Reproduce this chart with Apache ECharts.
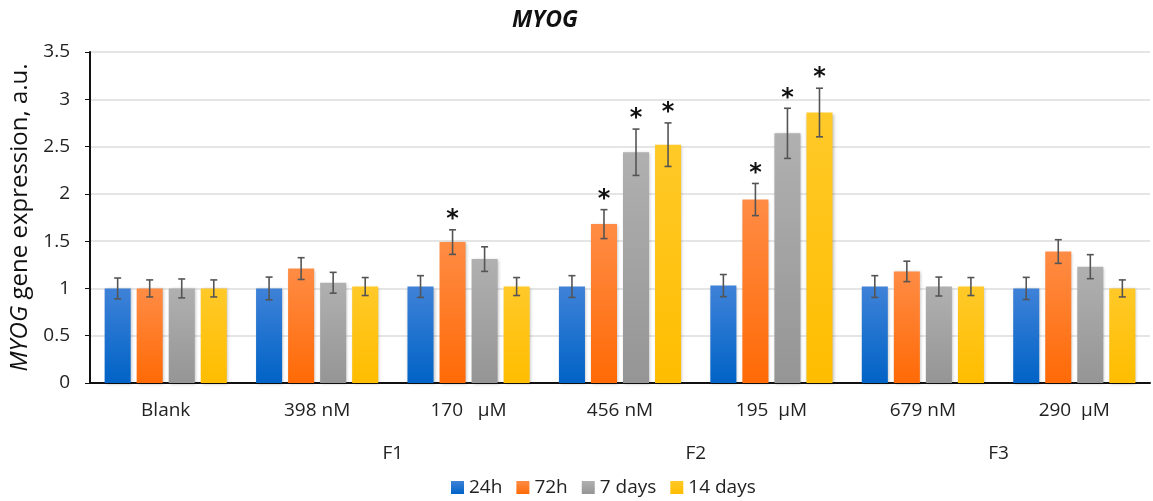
<!DOCTYPE html>
<html><head><meta charset="utf-8">
<script src="https://cdn.jsdelivr.net/npm/echarts@6/dist/echarts.min.js"></script>
<style>html,body{margin:0;padding:0;background:#fff}#c{width:1153px;height:501px}</style>
</head><body><div id="c"></div>
<script>
// ---- data ----
const categories = ['Blank', '398 nM', '170   µM', '456 nM', '195  µM', '679 nM', '290  µM'];
const seriesNames = ['24h', '72h', '7 days', '14 days'];
const v24 = [1.00, 1.00, 1.02, 1.02, 1.03, 1.02, 1.00];
const e24 = [0.11, 0.12, 0.115, 0.115, 0.117, 0.115, 0.117];
const v72 = [1.00, 1.21, 1.49, 1.68, 1.94, 1.18, 1.39];
const e72 = [0.09, 0.115, 0.13, 0.153, 0.17, 0.108, 0.125];
const v7d = [1.00, 1.06, 1.31, 2.44, 2.64, 1.02, 1.23];
const e7d = [0.10, 0.11, 0.13, 0.245, 0.265, 0.10, 0.127];
const v14 = [1.00, 1.02, 1.02, 2.52, 2.86, 1.02, 1.00];
const e14 = [0.09, 0.095, 0.095, 0.23, 0.257, 0.095, 0.09];
const s24 = [0, 0, 0, 0, 0, 0, 0];
const s72 = [0, 0, 1, 1, 1, 0, 0];
const s7d = [0, 0, 0, 1, 1, 0, 0];
const s14 = [0, 0, 0, 1, 1, 0, 0];
const groupLabels = ['F1', 'F2', 'F3'];
const groupSpans = [[1, 2], [3, 4], [5, 6]];
const yMin = 0, yMax = 3.5, yStep = 0.5;

// ---- styling ----
const FONT = 'Open Sans';
const BAR_W = 0.172, BAR_GAP = 0.23;
const colors = [
  ['#3f82d8', '#0063c6'],
  ['#ff8c45', '#ff6a06'],
  ['#b0b0b0', '#959595'],
  ['#ffc928', '#ffbd00']
];
const values = [v24, v72, v7d, v14];
const errs = [e24, e72, e7d, e14];
const sigs = [s24, s72, s7d, s14];

const grad = c => new echarts.graphic.LinearGradient(0, 0, 0, 1, [
  {offset: 0, color: c[0]}, {offset: 1, color: c[1]}]);

const barSeries = seriesNames.map((n, si) => ({
  type: 'bar', name: n, data: values[si],
  barWidth: (BAR_W * 100) + '%', barGap: (BAR_GAP * 100) + '%',
  itemStyle: {color: grad(colors[si]), shadowBlur: 3, shadowColor: 'rgba(0,0,0,0.25)', shadowOffsetX: 1, shadowOffsetY: 1},
  emphasis: {disabled: true}
}));

const errSeries = seriesNames.map((n, si) => ({
  type: 'custom', name: 'err' + si, silent: true, z: 10,
  data: values[si].map((v, ci) => [ci, v, errs[si][ci], sigs[si][ci]]),
  renderItem: (params, api) => {
    const ci = api.value(0), v = api.value(1), e = api.value(2), s = api.value(3);
    const band = api.size([1, 0])[0];
    const bw = band * BAR_W, step = bw * (1 + BAR_GAP);
    const x = api.coord([ci, v])[0] + (si - 1.5) * step;
    const top = api.coord([ci, v + e])[1], bot = api.coord([ci, v - e])[1];
    const st = {stroke: '#555', lineWidth: 1.6};
    const cap = 3.5;
    const ch = [
      {type: 'line', shape: {x1: x, y1: top, x2: x, y2: bot}, style: st},
      {type: 'line', shape: {x1: x - cap, y1: top, x2: x + cap, y2: top}, style: st},
      {type: 'line', shape: {x1: x - cap, y1: bot, x2: x + cap, y2: bot}, style: st}
    ];
    if (s) ch.push({type: 'text', style: {text: '*', x: x, y: top + 2, textAlign: 'center', textVerticalAlign: 'bottom',
      fontSize: 24, fontWeight: 'bold', fontFamily: 'DejaVu Sans', fill: '#111'}});
    return {type: 'group', children: ch};
  }
}));

const groupPos = {};
groupSpans.forEach((sp, i) => { groupPos[(sp[0] + sp[1] + 1) / 2] = groupLabels[i]; });

const chart = echarts.init(document.getElementById('c'), null, {renderer: 'canvas'});
chart.setOption({
  animation: false,
  title: {text: 'MYOG', left: 507, top: 4,
    textStyle: {fontFamily: FONT, fontSize: 23, fontWeight: 'bold', fontStyle: 'italic', color: '#111'}},
  grid: {left: 90, right: 3, top: 52, bottom: 118},
  legend: {data: seriesNames, bottom: -1, left: 446, icon: 'rect', itemWidth: 13, itemHeight: 13, itemGap: 14,
    itemStyle: {borderWidth: 0},
    textStyle: {fontFamily: FONT, fontSize: 19, color: '#222'}},
  xAxis: [
    {type: 'category', data: categories,
      axisLine: {lineStyle: {color: '#111', width: 2}}, axisTick: {show: false},
      axisLabel: {fontFamily: FONT, fontSize: 19, color: '#222', margin: 18}},
    {type: 'value', min: 0, max: categories.length, interval: 1, position: 'bottom', offset: 53,
      axisLine: {show: false}, axisTick: {show: false}, splitLine: {show: false},
      axisLabel: {fontFamily: FONT, fontSize: 19, color: '#222', margin: 8,
        formatter: v => groupPos[v] || ''}}
  ],
  yAxis: {type: 'value', min: yMin, max: yMax, interval: yStep,
    axisLine: {show: true, lineStyle: {color: '#111', width: 2}},
    axisLabel: {fontFamily: FONT, fontSize: 19, color: '#222', margin: 20},
    splitLine: {lineStyle: {color: '#dcdcdc', width: 1.5}},
    name: '{i|MYOG} gene expression, a.u.', nameLocation: 'middle', nameGap: 57, nameRotate: 90,
    nameTextStyle: {fontFamily: FONT, fontSize: 24, color: '#111',
      rich: {i: {fontFamily: FONT, fontSize: 24, fontStyle: 'italic', color: '#111'}}}},
  series: [...barSeries, ...errSeries]
});
</script></body></html>
